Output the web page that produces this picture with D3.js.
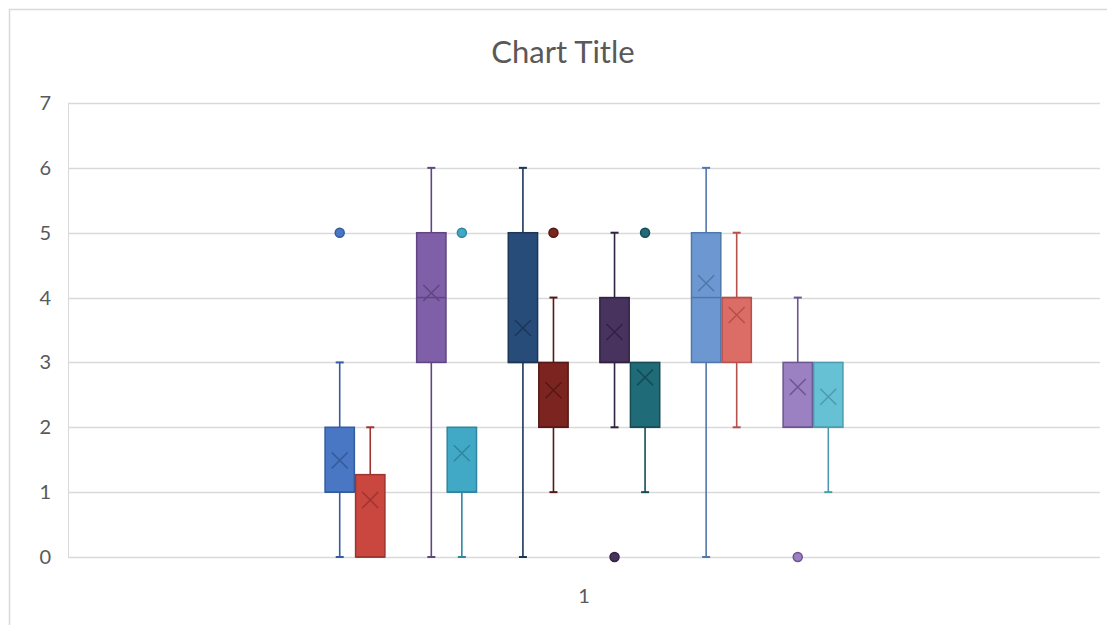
<!DOCTYPE html>
<html>
<head>
<meta charset="utf-8">
<script src="https://cdn.jsdelivr.net/npm/d3@7"></script>
<style>
  html, body { margin: 0; padding: 0; background: #ffffff; }
  svg { display: block; }
  text { font-family: Lato, "Open Sans", "Liberation Sans", sans-serif; }
</style>
</head>
<body>
<script>
// ---- data ----
const categories = ["1"];
const seriesNames = ["Series1","Series2","Series3","Series4","Series5","Series6",
                     "Series7","Series8","Series9","Series10","Series11","Series12"];
const groupNames = ["G1","G2","G3","G4","G5","G6"];
const q1Values      = [1, 0,    3, 1, 3, 2, 3, 2, 3, 3, 2, 2];
const medianValues  = [1, 0,    4, 1, 3, 2, 3, 2, 4, 4, 2, 2];
const q3Values      = [2, 1.27, 5, 2, 5, 3, 4, 3, 5, 4, 3, 3];
const whiskerLow    = [0, 0,    0, 0, 0, 1, 2, 1, 0, 2, 2, 1];
const whiskerHigh   = [3, 2,    6, 2, 6, 4, 5, 3, 6, 5, 4, 3];
const meanValues    = [1.49, 0.88, 4.07, 1.6, 3.53, 2.57, 3.47, 2.77, 4.22, 3.73, 2.62, 2.47];
const outlierValues = [[5], [], [], [5], [], [5], [0], [5], [], [], [0], []];
const yTicks = [0, 1, 2, 3, 4, 5, 6, 7];

const fillColors = ["#4a77c4","#c9473f","#7f5fa8","#41a9c5",
                    "#274c79","#7b2420","#48335f","#206b78",
                    "#6c97d0","#dc6c66","#9b81c2","#67c1d5"];
const strokeColors = ["#345d9e","#9e3530","#5f4682","#2f869e",
                      "#1b3657","#561815","#312243","#154c56",
                      "#5077aa","#b5504b","#6a5590","#4a9cae"];

// ---- layout ----
const W = 1107, H = 625;
const plot = { left: 68, right: 1100, top: 103, bottom: 557 };

const svg = d3.select("body").append("svg").attr("width", W).attr("height", H);

// chart border
svg.append("rect").attr("x", 9.5).attr("y", 9.5).attr("width", 1120).attr("height", 640)
  .attr("fill", "#fff").attr("stroke", "#d9d9d9").attr("stroke-width", 1.5);

// title
svg.append("text").attr("x", 563).attr("y", 63).attr("text-anchor", "middle")
  .attr("font-size", 31).attr("fill", "#595959").text("Chart Title");

const y = d3.scaleLinear().domain([0, 7]).range([plot.bottom, plot.top]);
const xCat = d3.scaleBand().domain(categories).range([plot.left, plot.right])
  .paddingInner(0).paddingOuter(0.494);
const xGroup = d3.scaleBand().domain(groupNames).range([0, xCat.bandwidth()])
  .paddingInner(1/3).paddingOuter(0);
const xInner = d3.scaleBand().domain([0, 1]).range([0, xGroup.bandwidth()])
  .paddingInner(0.04).paddingOuter(0.02);

// gridlines
svg.append("g").selectAll("line").data(yTicks).join("line")
  .attr("x1", plot.left).attr("x2", plot.right)
  .attr("y1", d => Math.round(y(d)) + 0.5).attr("y2", d => Math.round(y(d)) + 0.5)
  .attr("stroke", "#d9d9d9").attr("stroke-width", 1.5);

// left axis line
svg.append("line").attr("x1", plot.left + 0.5).attr("x2", plot.left + 0.5)
  .attr("y1", plot.top).attr("y2", plot.bottom)
  .attr("stroke", "#d9d9d9").attr("stroke-width", 1);

// y tick labels
svg.append("g").selectAll("text").data(yTicks).join("text")
  .attr("x", 51).attr("y", d => y(d) + 7).attr("text-anchor", "end")
  .attr("font-size", 20).attr("fill", "#595959").text(d => d);

// x category label
svg.append("g").selectAll("text").data(categories).join("text")
  .attr("x", d => xCat(d) + xCat.bandwidth() / 2).attr("y", 603)
  .attr("text-anchor", "middle").attr("font-size", 20).attr("fill", "#595959").text(d => d);

// boxes
const series = seriesNames.map((name, i) => ({
  name, i,
  q1: q1Values[i], med: medianValues[i], q3: q3Values[i],
  lo: whiskerLow[i], hi: whiskerHigh[i], mean: meanValues[i],
  outliers: outlierValues[i],
  fill: fillColors[i], stroke: strokeColors[i],
  x0: xCat(categories[0]) + xGroup(groupNames[Math.floor(i / 2)]) + xInner(i % 2),
  w: xInner.bandwidth()
}));

const g = svg.append("g").selectAll("g").data(series).join("g");

// whiskers
g.append("line")
  .attr("x1", d => d.x0 + d.w / 2).attr("x2", d => d.x0 + d.w / 2)
  .attr("y1", d => y(d.hi)).attr("y2", d => y(d.q3))
  .attr("stroke", d => d.stroke).attr("stroke-width", 1.6);
g.append("line")
  .attr("x1", d => d.x0 + d.w / 2).attr("x2", d => d.x0 + d.w / 2)
  .attr("y1", d => y(d.lo)).attr("y2", d => y(d.q1))
  .attr("stroke", d => d.stroke).attr("stroke-width", 1.6);
// caps
g.filter(d => d.hi > d.q3).append("line")
  .attr("x1", d => d.x0 + d.w / 2 - 4).attr("x2", d => d.x0 + d.w / 2 + 4)
  .attr("y1", d => y(d.hi)).attr("y2", d => y(d.hi))
  .attr("stroke", d => d.stroke).attr("stroke-width", 2);
g.filter(d => d.lo < d.q1).append("line")
  .attr("x1", d => d.x0 + d.w / 2 - 4).attr("x2", d => d.x0 + d.w / 2 + 4)
  .attr("y1", d => y(d.lo)).attr("y2", d => y(d.lo))
  .attr("stroke", d => d.stroke).attr("stroke-width", 2);

// box
g.append("rect")
  .attr("x", d => d.x0).attr("width", d => d.w)
  .attr("y", d => y(d.q3)).attr("height", d => y(d.q1) - y(d.q3))
  .attr("fill", d => d.fill).attr("stroke", d => d.stroke).attr("stroke-width", 1.5);
// median
g.append("line")
  .attr("x1", d => d.x0).attr("x2", d => d.x0 + d.w)
  .attr("y1", d => y(d.med)).attr("y2", d => y(d.med))
  .attr("stroke", d => d.stroke).attr("stroke-width", 1.5);

// mean X
const xs = 8;
g.append("path")
  .attr("d", d => {
    const cx = d.x0 + d.w / 2, cy = y(d.mean);
    return `M${cx - xs},${cy - xs}L${cx + xs},${cy + xs}M${cx - xs},${cy + xs}L${cx + xs},${cy - xs}`;
  })
  .attr("stroke", d => d.stroke).attr("stroke-width", 1.5).attr("fill", "none");

// outliers
g.selectAll("circle").data(d => d.outliers.map(v => ({ v, d }))).join("circle")
  .attr("cx", o => o.d.x0 + o.d.w / 2).attr("cy", o => y(o.v)).attr("r", 4.5)
  .attr("fill", o => o.d.fill).attr("stroke", o => o.d.stroke).attr("stroke-width", 1.5);
</script>
</body>
</html>
